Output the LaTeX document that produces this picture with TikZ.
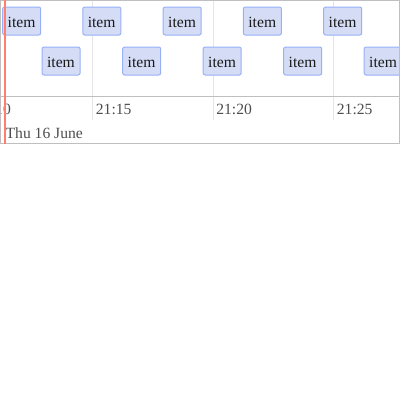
\documentclass[tikz,border=0pt]{standalone}
\usepackage{fontspec}
\setmainfont{Liberation Serif}
\definecolor{itemfill}{HTML}{D5DDF6}
\definecolor{itemline}{HTML}{97B0F8}
\definecolor{gridminor}{HTML}{E5E5E5}
\definecolor{gridmajor}{HTML}{BFBFBF}
\definecolor{axistext}{HTML}{4D4D4D}
\definecolor{nowred}{HTML}{FF7F6E}
\definecolor{itemtext}{HTML}{1A1A1A}
\begin{document}
\begin{tikzpicture}[x=1pt,y=-1pt,
  itembox/.style={draw=itemline, fill=itemfill, line width=1pt, rounded corners=2pt,
    anchor=north west, minimum height=28pt, text width=28pt, inner xsep=5pt, inner ysep=0pt,
    text height=12pt, text depth=0pt, align=left, font=\fontsize{15.6}{18}\selectfont, text=itemtext},
  axislabel/.style={anchor=base west, inner sep=0pt, text=axistext, font=\fontsize{15.6}{18}\selectfont},
  minorline/.style={draw=gridminor, line width=1pt},
  majorline/.style={draw=gridmajor, line width=1pt}]
\useasboundingbox (0,0) rectangle (400,400);
% grid
\draw[minorline] (92.5,1) -- (92.5,120);
\draw[minorline] (213.3,1) -- (213.3,120);
\draw[minorline] (333.5,1) -- (333.5,120);
\draw[majorline] (0,96.5) -- (400,96.5);
\begin{scope}
\clip (1,1) rectangle (399,143);
% items, top row
\node[itembox] (t1) at (2.2,6.5) {item};
\node[itembox] (t2) at (82.3,6.5) {item};
\node[itembox] (t3) at (162.7,6.5) {item};
\node[itembox] (t4) at (242.9,6.5) {item};
\node[itembox] (t5) at (323.2,6.5) {item};
% items, bottom row
\node[itembox] (b1) at (41.6,46.5) {item};
\node[itembox] (b2) at (122.2,46.5) {item};
\node[itembox] (b3) at (202.7,46.5) {item};
\node[itembox] (b4) at (283.2,46.5) {item};
\node[itembox] (b5) at (363.7,46.5) {item};
% axis labels
\node[axislabel] (l0) at (-24.8,114) {21:10};
\node[axislabel] (l1) at (95.7,114) {21:15};
\node[axislabel] (l2) at (216.2,114) {21:20};
\node[axislabel] (l3) at (336.7,114) {21:25};
\node[axislabel] (major) at (5.5,138) {Thu 16 June};
\end{scope}
% border
\draw[majorline] (0.5,0.5) rectangle (399.5,143.5);
% current time
\draw[draw=nowred, line width=2pt] (4.5,0) -- (4.5,144);
\end{tikzpicture}
\end{document}
